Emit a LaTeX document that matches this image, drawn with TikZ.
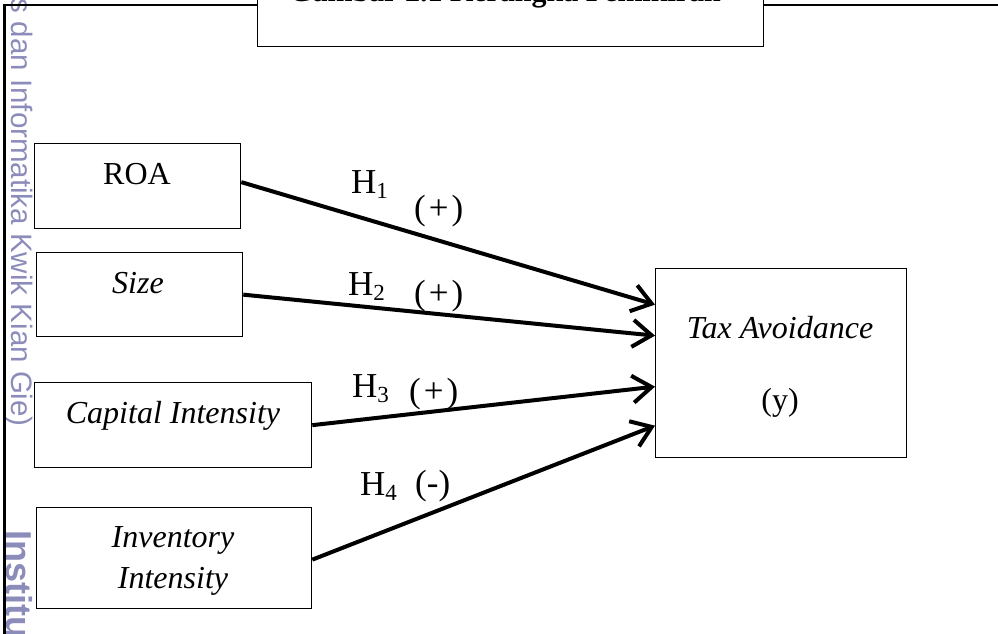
\documentclass[tikz,border=0pt]{standalone}
\usepackage{fontspec}
\setmainfont{Liberation Serif}
\newfontfamily\wmfont{Liberation Sans}
\usetikzlibrary{arrows.meta,calc}
\definecolor{wm}{RGB}{140,140,186}
\newcommand\hlab[1]{H\raisebox{-5pt}{\fontsize{23}{23}\selectfont #1}}
\newcommand\sgn[1]{(\kern3pt#1\kern3pt)}
\begin{document}
\begin{tikzpicture}[x=1pt,y=-1pt,
  box/.style={draw=black, line width=1.3pt, inner sep=0pt, anchor=north west},
  txt/.style={font=\fontsize{32}{38}\selectfont, anchor=base, inner sep=0pt},
  itxt/.style={font=\fontsize{32}{38}\selectfont\itshape, anchor=base, inner sep=0pt},
  lab/.style={font=\fontsize{35}{42}\selectfont, anchor=base west, inner sep=0pt},
  frameline/.style={line width=2.6pt, black},
  arr/.style={line width=4pt, -{Straight Barb[length=19pt, width=27pt, line width=4pt]}},
  wmark/.style={text=wm, inner sep=0pt, rotate=-90}]
\useasboundingbox (0,0) rectangle (998,634);
\clip (0,0) rectangle (998,634);
% watermark
\node[wmark, font=\wmfont\fontsize{29.5}{30}\selectfont, anchor=base east] (wm1) at (11,427) {s dan Informatika Kwik Kian Gie)};
\node[wmark, font=\wmfont\fontsize{36}{38}\selectfont\bfseries, anchor=base west] (wm2) at (6,530) {Institut};
% frame
\draw[frameline] (4.5,640) -- (4.5,5) -- (257,5);
\draw[frameline] (763,5) -- (1000,5);
% title box
\node[box, fill=white, minimum width=506pt, minimum height=120pt, anchor=south west] (tbox) at (257,47.5) {};
\node[font=\fontsize{30}{36}\selectfont\bfseries, anchor=base, inner sep=0pt] (title) at (505,2) {Gambar 2.1 Kerangka Pemikiran};
% boxes
\node[box, minimum width=206pt, minimum height=85pt] (roa) at (34,143) {};
\node[box, minimum width=206pt, minimum height=84pt] (size) at (36,252) {};
\node[box, minimum width=277pt, minimum height=85pt] (cap) at (34,382) {};
\node[box, minimum width=275pt, minimum height=101pt] (inv) at (36,507) {};
\node[box, minimum width=251pt, minimum height=189pt] (tax) at (655,268) {};
% texts
\node[txt] (roaT) at (137,184) {ROA};
\node[itxt] (sizeT) at (138,293) {Size};
\node[itxt] (capT) at (173,423) {Capital Intensity};
\node[itxt] (invT1) at (173,547) {Inventory};
\node[itxt] (invT2) at (173,588) {Intensity};
\node[itxt] (taxT) at (780,338) {Tax Avoidance};
\node[txt] (taxY) at (780,410) {(y)};
% arrow ends
\coordinate (t1) at ([yshift=58.5pt]tax.west);
\coordinate (t2) at ([yshift=27.5pt]tax.west);
\coordinate (t3) at ([yshift=-23.5pt]tax.west);
\coordinate (t4) at ([yshift=-62.5pt]tax.west);
\draw[arr] ([yshift=4pt]roa.east) -- (t1);
\draw[arr] (size.east) -- (t2);
\draw[arr] (cap.east) -- (t3);
\draw[arr] ([yshift=-1.5pt]inv.east) -- (t4);
% labels
\node[lab] (h1) at (351,193) {\hlab{1}};
\node[lab] (s1) at (414,219) {\sgn{+}};
\node[lab] (h2) at (348,295) {\hlab{2}};
\node[lab] (s2) at (414,304) {\sgn{+}};
\node[lab] (h3) at (352,397) {\hlab{3}};
\node[lab] (s3) at (409,402) {\sgn{+}};
\node[lab] (h4) at (360,495) {\hlab{4}};
\node[lab] (s4) at (415,494) {(-)};
\end{tikzpicture}
\end{document}
